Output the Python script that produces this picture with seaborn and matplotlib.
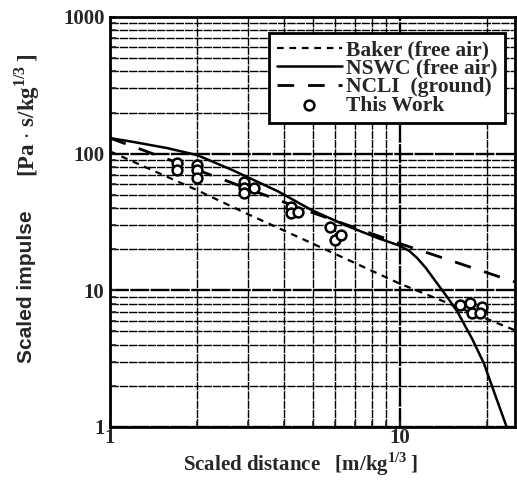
import matplotlib
matplotlib.use("Agg")
import matplotlib.pyplot as plt
import numpy as np
import pandas as pd
import seaborn as sns

# Baker (free air)
baker_x = [1.0, 2.0, 3.0, 5.0, 10.0, 25.0]
baker_y = [104, 54, 36, 22, 11.2, 5.1]

# NSWC (free air)
nswc_x = [1.0, 1.2, 1.57, 2.0, 2.64, 3.8, 4.96, 6.48, 8.41, 10.0, 10.8, 11.5, 12.3, 13.2, 14.6, 15.8, 17.8, 19.5, 21.3, 23.4]
nswc_y = [130, 122, 110, 97.6, 76, 53, 38.7, 30, 24.1, 21.2, 19.4, 17.2, 14.6, 11.9, 8.9, 7.0, 4.4, 2.94, 1.74, 1.0]

# NCLI (ground)
ncli_x = [1.0, 2.0, 5.0, 10.0, 25.0]
ncli_y = [130, 76, 37, 22, 11.5]

# This Work (measured)
work_x = [1.70, 1.70, 1.99, 1.99, 1.99, 2.90, 2.90, 2.90, 3.14, 4.20, 4.20, 4.47,
          5.76, 5.98, 6.28, 16.2, 17.5, 17.8, 19.2, 18.9]
work_y = [85, 76, 83, 76, 66, 62, 56, 51.5, 56, 40.7, 36.8, 37.3,
          29.0, 23.3, 25.4, 7.8, 8.1, 6.8, 7.5, 6.8]

sns.set_style("ticks")
plt.rcParams["font.family"] = ["Liberation Serif", "DejaVu Serif"]
plt.rcParams["font.weight"] = "bold"
plt.rcParams["mathtext.fontset"] = "custom"
plt.rcParams["mathtext.rm"] = "Liberation Serif:bold"
plt.rcParams["mathtext.bf"] = "Liberation Serif:bold"

fig = plt.figure(figsize=(5.17, 4.96), dpi=100)
ax = fig.add_axes([110 / 517, 1 - 427 / 496, 405 / 517, 410 / 496])

sns.lineplot(x=baker_x, y=baker_y, ax=ax, color="black", lw=1.6,
             linestyle=(0, (3, 2.6)), estimator=None, sort=False,
             label="Baker (free air)")
sns.lineplot(x=nswc_x, y=nswc_y, ax=ax, color="black", lw=1.8,
             estimator=None, sort=False, label="NSWC (free air)")
sns.lineplot(x=ncli_x, y=ncli_y, ax=ax, color="black", lw=2.0,
             linestyle=(0, (6, 5)), estimator=None, sort=False,
             label="NCLI  (ground)")
sns.scatterplot(x=work_x, y=work_y, ax=ax, marker="o", s=50,
                facecolor="white", edgecolor="black", linewidth=1.8,
                label="This Work", zorder=5)

ax.set_xscale("log")
ax.set_yscale("log")
ax.set_xlim(1, 25)
ax.set_ylim(1, 1000)

# graph-paper style grid
ax.set_xticks([1, 10])
ax.set_xticklabels(["1", "10"])
ax.set_xticks([2, 3, 4, 5, 6, 7, 8, 9, 20], minor=True)
ax.set_yticks([1, 10, 100, 1000])
ax.set_yticklabels(["1", "10", "100", "1000"])
ax.grid(which="major", color="black", lw=1.7, linestyle=(0, (8, 0.6)))
ax.grid(which="minor", color="black", lw=1.0, linestyle=(0, (6, 0.7)))
ax.set_axisbelow(True)
ax.tick_params(which="both", direction="in", length=4, width=1.2,
               labelsize=15, pad=4)
ax.tick_params(axis="x", which="major", pad=1)
ax.yaxis.set_minor_formatter(matplotlib.ticker.NullFormatter())
ax.xaxis.set_minor_formatter(matplotlib.ticker.NullFormatter())
for sp in ax.spines.values():
    sp.set_linewidth(2.0)
    sp.set_color("black")

leg = ax.legend(loc="upper right", bbox_to_anchor=(0.975, 0.961),
                borderaxespad=0, fontsize=15.5, frameon=True, fancybox=False,
                handlelength=3.0, handletextpad=0.2, labelspacing=-0.08,
                borderpad=0.35, framealpha=1)
leg.get_frame().set_edgecolor("black")
leg.get_frame().set_linewidth(2.0)

ax.set_xlabel("")
ax.set_ylabel("")
fig.text(300 / 517, 1 - 464 / 496, "Scaled distance   [m/kg$^{1/3}\\,$]",
         ha="center", va="center", fontsize=15, fontweight="bold")
fig.text(27 / 517, 1 - 287 / 496, "Scaled impulse", rotation=90,
         ha="center", va="center", fontsize=15, fontweight="bold",
         family="Liberation Sans")
fig.text(27 / 517, 1 - 115 / 496, "[Pa $\\cdot$ s/kg$^{1/3}\\,$]", rotation=90,
         ha="center", va="center", fontsize=16.5, fontweight="bold")

fig.savefig("out.png", dpi=100)
